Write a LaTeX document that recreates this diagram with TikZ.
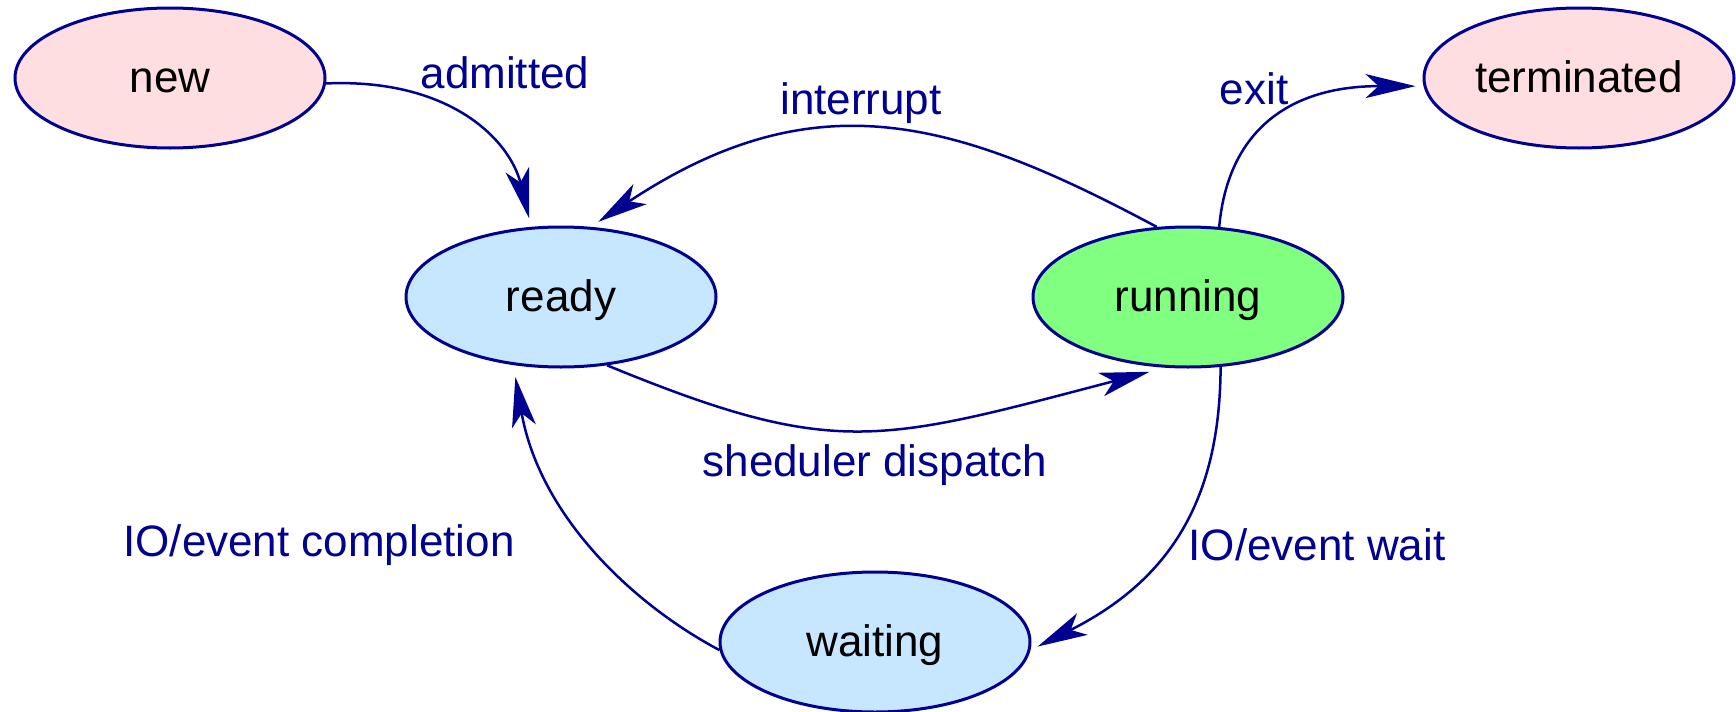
\documentclass[tikz,border=0pt]{standalone}
\usepackage{fontspec}
\setmainfont{Liberation Sans}
\usetikzlibrary{arrows.meta,shapes.geometric}
\definecolor{edgeblue}{RGB}{0,0,145}
\definecolor{endpink}{RGB}{255,222,225}
\definecolor{waitblue}{RGB}{198,231,255}
\definecolor{rungreen}{RGB}{128,255,128}

\begin{document}
\begin{tikzpicture}[x=0.5pt,y=-0.5pt,
  state/.style={ellipse, draw=edgeblue, line width=1.5pt, minimum width=155pt,
    minimum height=70pt, inner sep=0pt, text height=14pt, text depth=0pt,
    font=\fontsize{22}{26}\selectfont},
  trans/.style={draw=edgeblue, line width=1.25pt,
    -{Stealth[length=25pt,width=12pt,inset=6.5pt]}},
  lbl/.style={text=edgeblue, font=\fontsize{22}{26}\selectfont, inner sep=0pt}]

\useasboundingbox (0,0) rectangle (1736,712);

% process states
\node[state, fill=endpink]  (new)        at (170,78)  {new};
\node[state, fill=endpink]  (terminated) at (1579,78) {terminated};
\node[state, fill=waitblue] (ready)      at (561,297) {ready};
\node[state, fill=rungreen] (running)    at (1188,297) {running};
\node[state, fill=waitblue] (waiting)    at (875,642) {waiting};

% transitions
\draw[trans, shorten >=4.3pt] (new.-2) .. controls (450,78) and (510,140) .. (ready.113);
\draw[trans, shorten >=4.5pt] (running.114) .. controls (955,119) and (815,78) .. (ready.67);
\draw[trans, shorten >=8pt] (ready.-56) .. controls (835,459) and (878,443) .. (running.-108);
\draw[trans, shorten >=4pt] (running.66) .. controls (1228,130) and (1290,86) .. (terminated.183);
\draw[trans, shorten >=4pt] (running.-65) .. controls (1220,500) and (1170,580) .. (waiting.-3);
\draw[trans, shorten >=6pt] (waiting.183) .. controls (629,602) and (539,513) .. (ready.-125);

% transition labels
\node[lbl] (l-admitted)   at (505,73)  {admitted};
\node[lbl] (l-interrupt)  at (861,103) {interrupt};
\node[lbl] (l-exit)       at (1254,89) {exit};
\node[lbl] (l-dispatch)   at (875,465) {sheduler dispatch};
\node[lbl] (l-completion) at (319,545) {IO/event completion};
\node[lbl] (l-wait)       at (1317,545) {IO/event wait};
\end{tikzpicture}
\end{document}
